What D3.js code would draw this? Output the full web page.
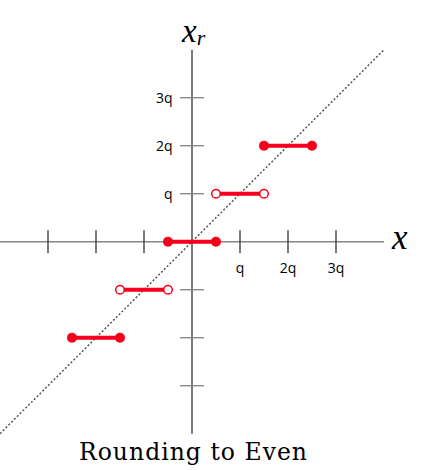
<!DOCTYPE html>
<html><head><meta charset="utf-8">
<script src="https://cdn.jsdelivr.net/npm/d3@7"></script>
<style>body{margin:0;background:#fff}</style>
</head><body>
<script>
// data (in units of q)
const xTicks = [-3, -2, -1, 1, 2, 3];
const yTicks = [-3, -2, -1, 1, 2, 3];
const xTickLabels = ["q", "2q", "3q"];
const xTickLabelValues = [1, 2, 3];
const yTickLabels = ["q", "2q", "3q"];
const yTickLabelValues = [1, 2, 3];
const segStart = [-2.5, -1.5, -0.5, 0.5, 1.5];
const segEnd = [-1.5, -0.5, 0.5, 1.5, 2.5];
const segLevel = [-2, -1, 0, 1, 2];
const segClosed = [true, false, true, false, true];
const diag = [[-4, -4], [4, 4]];
const domain = [-4, 4];

const W = 439, H = 470;
const svg = d3.select("body").append("svg").attr("width", W).attr("height", H);
const x = d3.scaleLinear().domain(domain).range([0, 384]);
const y = d3.scaleLinear().domain(domain).range([433.7, 49.7]);
const red = "#f5001c";

// x axis line
svg.append("line").attr("x1", x(-4)).attr("x2", x(4)).attr("y1", y(0)).attr("y2", y(0))
  .attr("stroke", "#888").attr("stroke-width", 1.6);
// y axis line
svg.append("line").attr("x1", x(0)).attr("x2", x(0)).attr("y1", y(4)).attr("y2", y(-4))
  .attr("stroke", "#222").attr("stroke-width", 1.2);

// x ticks
svg.selectAll(".xt").data(xTicks).enter().append("line")
  .attr("x1", d => x(d)).attr("x2", d => x(d))
  .attr("y1", y(0) - 11.5).attr("y2", y(0) + 11.5)
  .attr("stroke", "#222").attr("stroke-width", 1.2);
// y ticks
svg.selectAll(".yt").data(yTicks).enter().append("line")
  .attr("y1", d => y(d)).attr("y2", d => y(d))
  .attr("x1", x(0) - 12).attr("x2", x(0) + 12)
  .attr("stroke", "#888").attr("stroke-width", 1.4);

// tick labels
svg.selectAll(".xl").data(xTickLabelValues).enter().append("text")
  .attr("x", d => x(d)).attr("y", y(0) + 31)
  .attr("text-anchor", "middle").attr("font-family", "Open Sans").attr("font-size", 14)
  .attr("font-weight", 500)
  .text((d, i) => xTickLabels[i]);
svg.selectAll(".yl").data(yTickLabelValues).enter().append("text")
  .attr("x", x(0) - 19.5).attr("y", d => y(d) + 5)
  .attr("text-anchor", "end").attr("font-family", "Open Sans").attr("font-size", 14)
  .attr("font-weight", 500)
  .text((d, i) => yTickLabels[i]);

// diagonal
svg.append("line").attr("x1", x(diag[0][0])).attr("y1", y(diag[0][1]))
  .attr("x2", x(diag[1][0])).attr("y2", y(diag[1][1]))
  .attr("stroke", "#555").attr("stroke-width", 1.5).attr("stroke-dasharray", "2,2");

// segments
const segs = segLevel.map((l, i) => ({a: segStart[i], b: segEnd[i], l, c: segClosed[i]}));
svg.selectAll(".seg").data(segs).enter().append("line")
  .attr("x1", d => x(d.a)).attr("x2", d => x(d.b))
  .attr("y1", d => y(d.l)).attr("y2", d => y(d.l))
  .attr("stroke", red).attr("stroke-width", 4);
const pts = [];
segs.forEach(s => { pts.push({v: s.a, l: s.l, c: s.c}); pts.push({v: s.b, l: s.l, c: s.c}); });
svg.selectAll(".pt").data(pts).enter().append("circle")
  .attr("cx", d => x(d.v)).attr("cy", d => y(d.l))
  .attr("r", d => d.c ? 5 : 4.3)
  .attr("fill", d => d.c ? red : "#fff")
  .attr("stroke", red).attr("stroke-width", d => d.c ? 0 : 1.5);

// axis labels
svg.append("text").attr("x", 392).attr("y", 249).attr("font-family", "Liberation Serif")
  .attr("font-style", "italic").attr("font-size", 35).text("x");
const xr = svg.append("text").attr("x", 182).attr("y", 42).attr("font-family", "Liberation Serif")
  .attr("font-style", "italic").attr("font-size", 33);
xr.append("tspan").text("x");
xr.append("tspan").attr("font-size", 22).attr("dy", 3).text("r");

// title
svg.append("text").attr("x", 79).attr("y", 460)
  .attr("font-family", "DejaVu Serif").attr("font-size", 23.5)
  .attr("textLength", 228).attr("lengthAdjust", "spacing").text("Rounding to Even");
</script>
</body></html>
